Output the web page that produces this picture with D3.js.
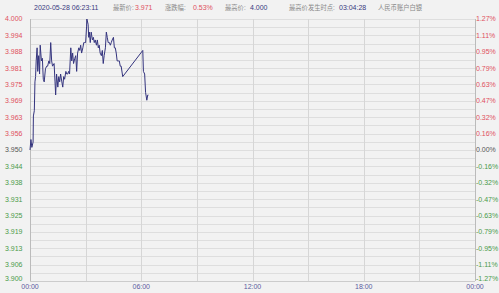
<!DOCTYPE html>
<html>
<head>
<meta charset="utf-8">
<script src="https://cdn.jsdelivr.net/npm/d3@7"></script>
<style>
  body { margin: 0; background: #f2f2f2; }
  svg { display: block; font-family: "Liberation Sans", "Noto Sans CJK SC", sans-serif; }
</style>
</head>
<body>
<svg id="chart" width="499" height="293"></svg>
<script>
// 分时数据 (时间, 价格)
const times = ["00:00","00:03","00:06","00:10","00:11","00:14","00:16","00:18","00:20","00:23","00:25","00:28","00:31","00:33","00:37","00:40","00:43","00:46","00:50","00:54","00:57","01:01","01:04","01:07","01:10","01:13","01:18","01:21","01:23","01:26","01:30","01:33","01:36","01:39","01:43","01:46","01:49","01:52","01:56","01:59","02:02","02:05","02:08","02:12","02:15","02:18","02:21","02:25","02:28","02:31","02:34","02:38","02:41","02:44","02:47","02:51","02:54","02:57","03:00","03:03","03:04","03:08","03:10","03:12","03:15","03:18","03:22","03:25","03:28","03:31","03:35","03:38","03:41","03:44","03:47","03:51","03:54","03:57","04:00","04:04","04:07","04:10","04:13","04:17","04:20","04:23","04:26","04:30","04:33","04:36","04:39","04:42","04:46","04:49","04:52","04:55","05:00","06:05","06:07","06:11","06:14","06:18","06:21","06:23"];
const prices = [3.950,3.954,3.951,3.953,3.963,3.965,3.976,3.978,3.984,3.989,3.980,3.986,3.979,3.990,3.984,3.985,3.977,3.976,3.981,3.982,3.982,3.984,3.983,3.991,3.984,3.982,3.983,3.976,3.971,3.979,3.974,3.978,3.976,3.979,3.976,3.974,3.978,3.977,3.980,3.979,3.979,3.980,3.979,3.989,3.984,3.987,3.983,3.985,3.986,3.980,3.987,3.989,3.988,3.990,3.987,3.989,3.991,3.991,3.991,3.997,4.000,3.998,3.993,3.995,3.991,3.995,3.992,3.993,3.991,3.992,3.990,3.992,3.989,3.990,3.987,3.986,3.988,3.983,3.986,3.989,3.995,3.993,3.991,3.991,3.990,3.991,3.992,3.993,3.989,3.989,3.987,3.984,3.984,3.984,3.982,3.982,3.978,3.988,3.980,3.979,3.972,3.969,3.971,3.971];

const prevClose = 3.950;
const leftLabels = ["4.000","3.994","3.988","3.981","3.975","3.969","3.963","3.956","3.950","3.944","3.938","3.931","3.925","3.919","3.913","3.906","3.900"];
const rightLabels = ["1.27%","1.11%","0.95%","0.79%","0.63%","0.47%","0.32%","0.16%","0.00%","-0.16%","-0.32%","-0.47%","-0.63%","-0.79%","-0.95%","-1.11%","-1.27%"];
const timeLabels = ["00:00","06:00","12:00","18:00","00:00"];

const svg = d3.select("#chart");
const margin = { top: 19, right: 24, bottom: 12, left: 30 };
const width = 499 - margin.left - margin.right,
      height = 293 - margin.top - margin.bottom;

const parse = d3.timeParse("%Y-%m-%d %H:%M");
const t0 = parse("2020-05-28 00:00"), t1 = parse("2020-05-29 00:00");
const data = times.map((t, i) => ({ t: parse("2020-05-28 " + t), v: prices[i] }));

const x = d3.scaleTime().domain([t0, t1]).range([0, width]);
const y = d3.scaleLinear().domain([3.900, 4.000]).range([height, 0]);

const g = svg.append("g").attr("transform", `translate(${margin.left},${margin.top})`);

// 网格
const hLines = d3.range(33).map(i => 3.900 + i * 0.003125);
g.selectAll(".hgrid").data(hLines).enter().append("line")
  .attr("x1", 0).attr("x2", width)
  .attr("y1", d => Math.round(y(d)) + 0.5).attr("y2", d => Math.round(y(d)) + 0.5)
  .attr("stroke", "#dedede").attr("stroke-width", 1);

const vTicks = d3.timeHour.every(3).range(t0, d3.timeHour.offset(t1, 1));
g.selectAll(".vgrid").data(vTicks).enter().append("line")
  .attr("y1", 0).attr("y2", height)
  .attr("x1", d => Math.round(x(d)) + 0.5).attr("x2", d => Math.round(x(d)) + 0.5)
  .attr("stroke", "#d6d6d6");

// 边框
g.append("line").attr("x1", 0.5).attr("x2", 0.5).attr("y1", 0).attr("y2", height).attr("stroke", "#bbb");
g.append("line").attr("x1", width + 0.5).attr("x2", width + 0.5).attr("y1", 0).attr("y2", height).attr("stroke", "#bbb");
g.append("line").attr("x1", 0).attr("x2", width).attr("y1", height + 0.5).attr("y2", height + 0.5).attr("stroke", "#ccc");

// 左轴
g.selectAll(".ly").data(leftLabels).enter().append("text")
  .attr("x", -25).attr("y", (d, i) => y(4.000 - i * 0.00625) - (i === 16 ? 2 : 0)).attr("dy", "0.35em")
  .style("font-size", "7px")
  .attr("fill", (d, i) => i < 8 ? "#e0505e" : (i === 8 ? "#555" : "#4a9a4a"))
  .text(d => d);

// 右轴
g.selectAll(".ry").data(rightLabels).enter().append("text")
  .attr("x", width + 1).attr("y", (d, i) => y(4.000 - i * 0.00625) - (i === 16 ? 2 : 0)).attr("dy", "0.35em")
  .style("font-size", "7px")
  .attr("fill", (d, i) => i < 8 ? "#e0505e" : (i === 8 ? "#555" : "#4a9a4a"))
  .text(d => d);

// 时间轴
const xTicks = d3.timeHour.every(6).range(t0, d3.timeHour.offset(t1, 1));
g.selectAll(".xt").data(xTicks).enter().append("text")
  .attr("x", d => x(d)).attr("y", height + 8)
  .attr("text-anchor", "middle")
  .style("font-size", "7px").attr("fill", "#5a5aa0")
  .text((d, i) => timeLabels[i]);

// 价格线
const line = d3.line().x(d => x(d.t)).y(d => y(d.v));
g.append("path").datum(data)
  .attr("fill", "none").attr("stroke", "#34347e").attr("stroke-width", 1)
  .attr("d", line);

// 顶部信息
const last = prices[prices.length - 1];
const chg = ((last - prevClose) / prevClose * 100).toFixed(2) + "%";
const header = [
  { x: 34, text: "2020-05-28 06:23:11", c: "#3a3a80", s: 7 },
  { x: 113, text: "最新价:", c: "#888", s: 6.3 },
  { x: 135, text: last.toFixed(3), c: "#e0505e", s: 7 },
  { x: 165, text: "涨跌幅:", c: "#888", s: 6.3 },
  { x: 193, text: chg, c: "#e0505e", s: 7 },
  { x: 225, text: "最高价:", c: "#888", s: 6.3 },
  { x: 250, text: d3.max(prices).toFixed(3), c: "#3a3a80", s: 7 },
  { x: 289, text: "最高价发生时点:", c: "#888", s: 6.3 },
  { x: 339, text: "03:04:28", c: "#3a3a80", s: 7 },
  { x: 378, text: "人民币账户白银", c: "#888", s: 6.3 }
];
svg.selectAll(".hd").data(header).enter().append("text")
  .attr("x", d => d.x).attr("y", 10)
  .style("font-size", d => d.s + "px").attr("fill", d => d.c)
  .text(d => d.text);
</script>
</body>
</html>
